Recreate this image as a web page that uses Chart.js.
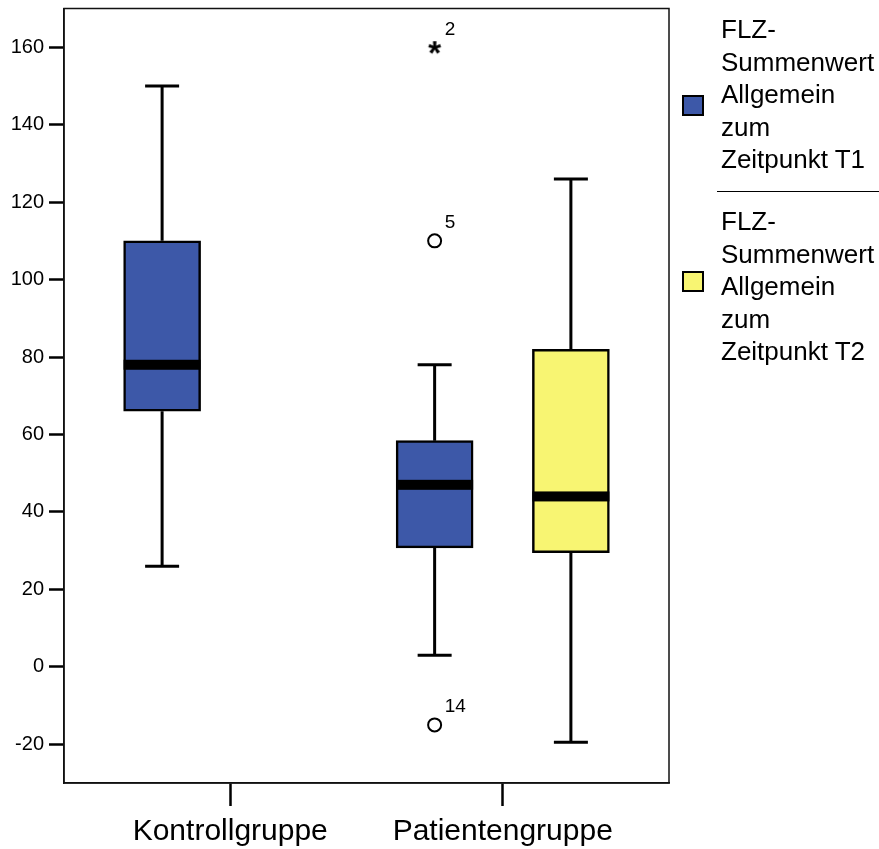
<!DOCTYPE html>
<html>
<head>
<meta charset="utf-8">
<script src="https://cdn.jsdelivr.net/npm/chart.js@4/dist/chart.umd.min.js"></script>
<style>
html, body { margin: 0; padding: 0; background: #fff; }
#wrap { position: relative; width: 879px; height: 849px; overflow: hidden; font-family: "Liberation Sans", Arial, sans-serif; }
#c { position: absolute; left: 0; top: 0; }
.lg-text { position: absolute; left: 721px; font-size: 26px; line-height: 32.5px; color: #000; white-space: pre-line; }
.lg-sw { position: absolute; left: 682px; width: 18px; height: 17px; border: 2px solid #000; }
.lg-sep { position: absolute; left: 717px; width: 162px; top: 191px; height: 0; border-top: 1.5px solid #000; }
</style>
</head>
<body>
<div id="wrap">
  <canvas id="c" width="879" height="849"></canvas>
  <div id="legend"></div>
</div>
<script>
// ---- data ----
const categories = ['Kontrollgruppe', 'Patientengruppe'];
const seriesNames = ['FLZ-\nSummenwert\nAllgemein\nzum\nZeitpunkt T1',
                     'FLZ-\nSummenwert\nAllgemein\nzum\nZeitpunkt T2'];
const seriesColors = ['#3D58A8', '#F8F572'];

const t1Min    = [26, 3];
const t1Q1     = [66, 30.7];
const t1Median = [78, 47];
const t1Q3     = [110, 58.4];
const t1Max    = [150, 78];

const t2Min    = [null, -19.5];
const t2Q1     = [null, 29.5];
const t2Median = [null, 44];
const t2Q3     = [null, 82];
const t2Max    = [null, 126];

const outlierCategory = ['Patientengruppe', 'Patientengruppe', 'Patientengruppe'];
const outlierSeries   = [0, 0, 0];
const outlierValues   = [160, 110, -15];
const outlierLabels   = ['2', '5', '14'];
const outlierKinds    = ['extreme', 'outlier', 'outlier'];

const yTicks = [-20, 0, 20, 40, 60, 80, 100, 120, 140, 160];

// ---- layout / style constants ----
const seriesOffset = [-0.25, 0.25];
const stats = [
  { min: t1Min, q1: t1Q1, med: t1Median, q3: t1Q3, max: t1Max },
  { min: t2Min, q1: t2Q1, med: t2Median, q3: t2Q3, max: t2Max }
];
const FONT = '"Liberation Sans", Arial, sans-serif';

// legend (HTML text)
const lg = document.getElementById('legend');
const lgTops = [13, 205], swTops = [95, 271];
seriesNames.forEach((name, s) => {
  const sw = document.createElement('div');
  sw.className = 'lg-sw'; sw.style.top = swTops[s] + 'px'; sw.style.background = seriesColors[s];
  lg.appendChild(sw);
  const t = document.createElement('div');
  t.className = 'lg-text'; t.style.top = lgTops[s] + 'px'; t.textContent = name;
  lg.appendChild(t);
});
const sep = document.createElement('div'); sep.className = 'lg-sep'; lg.appendChild(sep);

// asterisk point style for extreme values
function makeStar() {
  const c = document.createElement('canvas');
  c.width = 22; c.height = 22;
  const g = c.getContext('2d');
  g.font = 'bold 100px ' + FONT;
  let m = g.measureText('*');
  const w100 = m.actualBoundingBoxRight + m.actualBoundingBoxLeft;
  const size = 100 * 13 / w100;
  g.font = 'bold ' + size + 'px ' + FONT;
  g.textAlign = 'left'; g.textBaseline = 'alphabetic';
  m = g.measureText('*');
  const x0 = 11 - (m.actualBoundingBoxRight - m.actualBoundingBoxLeft) / 2;
  const y0 = 11 - (m.actualBoundingBoxDescent - m.actualBoundingBoxAscent) / 2;
  g.fillStyle = '#000';
  g.fillText('*', x0, y0);
  return c;
}
const starImg = makeStar();

function boxData(s) {
  const st = stats[s];
  const out = [];
  categories.forEach((c, i) => {
    if (st.q1[i] == null) return;
    out.push({ x: i + 1 + seriesOffset[s], y: [st.q1[i], st.q3[i]], cat: i });
  });
  return out;
}

const outlierData = outlierValues.map((v, k) => ({
  x: categories.indexOf(outlierCategory[k]) + 1 + seriesOffset[outlierSeries[k]],
  y: v
}));

const boxExtras = {
  id: 'boxExtras',
  afterDatasetsDraw(chart) {
    const ctx = chart.ctx, ys = chart.scales.y;
    const capW = 34;
    ctx.save();
    [0, 1].forEach(s => {
      const meta = chart.getDatasetMeta(s);
      const ds = chart.data.datasets[s];
      const st = stats[s];
      meta.data.forEach((bar, j) => {
        const i = ds.data[j].cat;
        const cx = bar.x, w = bar.width;
        const pLo = ys.getPixelForValue(st.min[i]);
        const pQ1 = ys.getPixelForValue(st.q1[i]);
        const pQ3 = ys.getPixelForValue(st.q3[i]);
        const pHi = ys.getPixelForValue(st.max[i]);
        const pMed = ys.getPixelForValue(st.med[i]);
        ctx.strokeStyle = '#000';
        ctx.lineWidth = 3;
        ctx.beginPath();
        ctx.moveTo(cx, pQ3); ctx.lineTo(cx, pHi);
        ctx.moveTo(cx - capW / 2, pHi); ctx.lineTo(cx + capW / 2, pHi);
        ctx.moveTo(cx, pQ1); ctx.lineTo(cx, pLo);
        ctx.moveTo(cx - capW / 2, pLo); ctx.lineTo(cx + capW / 2, pLo);
        ctx.stroke();
        ctx.fillStyle = '#000';
        ctx.fillRect(cx - w / 2, pMed - 5, w, 10);
      });
    });
    const om = chart.getDatasetMeta(2);
    ctx.font = '19px ' + FONT;
    ctx.fillStyle = '#000';
    ctx.textAlign = 'left';
    ctx.textBaseline = 'alphabetic';
    om.data.forEach((pt, k) => ctx.fillText(outlierLabels[k], pt.x + 10, pt.y - 12.5));
    const a = chart.chartArea;
    ctx.lineWidth = 1.5;
    ctx.strokeStyle = '#111';
    ctx.strokeRect(a.left, a.top, a.right - a.left, a.bottom - a.top);
    ctx.restore();
  }
};

new Chart(document.getElementById('c'), {
  type: 'bar',
  data: {
    datasets: [
      { label: seriesNames[0], data: boxData(0), backgroundColor: seriesColors[0],
        borderColor: '#000', borderWidth: 2.5, borderSkipped: false, grouped: false,
        barPercentage: 1, categoryPercentage: 1, maxBarThickness: 77 },
      { label: seriesNames[1], data: boxData(1), backgroundColor: seriesColors[1],
        borderColor: '#000', borderWidth: 2.5, borderSkipped: false, grouped: false,
        barPercentage: 1, categoryPercentage: 1, maxBarThickness: 77 },
      { type: 'scatter', label: 'Ausreißer', data: outlierData,
        pointStyle: outlierKinds.map(k => k === 'extreme' ? starImg : 'circle'),
        pointRadius: 6.5, borderWidth: 2, borderColor: '#000', backgroundColor: 'rgba(0,0,0,0)' }
    ]
  },
  options: {
    responsive: false,
    animation: false,
    events: [],
    layout: { padding: { left: 0, top: 7, right: 210, bottom: 0 } },
    plugins: { legend: { display: false }, tooltip: { enabled: false } },
    scales: {
      x: {
        type: 'linear', min: 0.39, max: 2.61, offset: false,
        afterBuildTicks: sc => { sc.ticks = categories.map((c, i) => ({ value: i + 1 })); },
        afterFit: sc => { sc.height = 66; sc.paddingLeft = 0; sc.paddingRight = 0; },
        ticks: {
          callback: v => categories[v - 1],
          font: { size: 30, family: FONT }, color: '#000', padding: 8,
          maxRotation: 0, autoSkip: false
        },
        grid: { offset: false, drawOnChartArea: false, drawTicks: true, tickLength: 23,
                tickWidth: 2.5, tickColor: '#000' },
        border: { display: true, color: '#111', width: 1.5 }
      },
      y: {
        type: 'linear', min: -30, max: 170,
        afterBuildTicks: sc => { sc.ticks = yTicks.map(v => ({ value: v })); },
        afterFit: sc => { sc.width = 64; sc.paddingTop = 0; sc.paddingBottom = 0; },
        ticks: { font: { size: 20, family: FONT }, color: '#000', padding: 5 },
        grid: { drawOnChartArea: false, drawTicks: true, tickLength: 15,
                tickWidth: 2.5, tickColor: '#000' },
        border: { display: true, color: '#111', width: 1.5 }
      }
    }
  },
  plugins: [boxExtras]
});
</script>
</body>
</html>
